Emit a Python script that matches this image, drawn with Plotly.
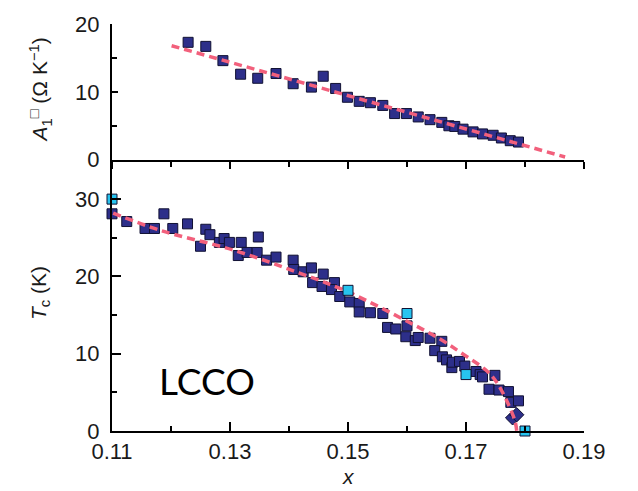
import plotly.graph_objects as go

# ---- data ----
a_x = [0.1229, 0.1259, 0.1288, 0.1318, 0.1347, 0.1378, 0.1407, 0.1438, 0.1458, 0.1479,
       0.1499, 0.1519, 0.1538, 0.1559, 0.1579, 0.1599, 0.1619, 0.1639, 0.1659, 0.1671,
       0.1681, 0.1695, 0.1712, 0.1728, 0.1746, 0.1760, 0.1775, 0.1789]
a_y = [17.3, 16.7, 14.6, 12.6, 12.0, 12.7, 11.2, 10.7, 12.3, 10.5,
       9.2, 8.6, 8.4, 8.0, 6.8, 6.8, 6.3, 5.9, 5.5, 5.0,
       4.9, 4.5, 4.1, 3.8, 3.6, 3.2, 2.8, 2.6]
a_fit_x = [0.1201, 0.1868]
a_fit_y = [16.8, 0.4]

tc_x = [0.11, 0.1125, 0.1156, 0.1172, 0.1188, 0.1203, 0.1228, 0.1250, 0.1259, 0.1266,
        0.1282, 0.1290, 0.1299, 0.1314, 0.1319, 0.1329, 0.1346, 0.1348, 0.1362, 0.1378,
        0.1407, 0.1408, 0.1424, 0.1438, 0.1440, 0.1458, 0.1456, 0.1477, 0.1472, 0.1486,
        0.1503, 0.1519, 0.1519, 0.1538, 0.1559, 0.1567, 0.1581, 0.1600, 0.1598, 0.1614,
        0.1619, 0.1639, 0.1659, 0.1647, 0.1660, 0.1667, 0.1676, 0.1677, 0.1689, 0.1698,
        0.1717, 0.1724, 0.1728, 0.1749, 0.1739, 0.1756, 0.1772, 0.1776, 0.1789]
tc_y = [28.1, 27.1, 26.2, 26.2, 28.1, 26.2, 26.8, 23.9, 26.1, 25.4,
        24.4, 24.9, 24.4, 22.7, 24.4, 23.1, 23.1, 25.1, 22.1, 22.5,
        22.1, 20.9, 20.6, 21.1, 19.2, 20.3, 18.7, 19.2, 18.3, 17.4,
        16.7, 16.5, 15.4, 15.3, 15.2, 13.4, 13.2, 13.6, 12.2, 11.7,
        12.1, 12.0, 11.6, 10.4, 9.6, 9.2, 8.2, 8.9, 9.0, 8.4,
        7.7, 7.3, 7.0, 7.2, 5.4, 5.3, 5.1, 3.7, 3.9]
tc_cyan_x = [0.11, 0.15, 0.16, 0.17, 0.18]
tc_cyan_y = [30.0, 18.2, 15.2, 7.3, 0.0]
tc_dia_x = [0.1779, 0.1786]
tc_dia_y = [1.7, 2.1]
tc_fit_x = [0.1102, 0.118, 0.1306, 0.1419, 0.15, 0.1605, 0.1656, 0.169, 0.1735,
            0.1752, 0.1769, 0.1783, 0.1786]
tc_fit_y = [28.2, 26.0, 23.4, 20.4, 18.0, 14.0, 11.9, 10.2, 7.8, 6.3, 3.9, 1.3, 0.0]

x_tickvals = [0.11, 0.13, 0.15, 0.17, 0.19]
x_ticktext = ["0.11", "0.13", "0.15", "0.17", "0.19"]

NAVY = "#2d2f8a"
CYAN = "#27c4ef"
RED = "#f2607c"
FONT = "Liberation Sans, Arial, sans-serif"
TXT = "#1a1a1a"

sq = dict(symbol="square", size=10, line=dict(color="#111133", width=1))

fig = go.Figure()

# top panel
fig.add_trace(go.Scatter(x=a_x, y=a_y, mode="markers", xaxis="x", yaxis="y",
                         marker=dict(color=NAVY, **sq), cliponaxis=False))
fig.add_trace(go.Scatter(x=a_fit_x, y=a_fit_y, mode="lines", xaxis="x", yaxis="y",
                         line=dict(color=RED, width=3.5, dash="8px,5px")))

# bottom panel
fig.add_trace(go.Scatter(x=tc_x, y=tc_y, mode="markers", xaxis="x2", yaxis="y2",
                         marker=dict(color=NAVY, **sq), cliponaxis=False))
fig.add_trace(go.Scatter(x=tc_dia_x, y=tc_dia_y, mode="markers", xaxis="x2", yaxis="y2",
                         marker=dict(color=NAVY, symbol="diamond", size=11,
                                     line=dict(color="#111133", width=1)),
                         cliponaxis=False))
fig.add_trace(go.Scatter(x=tc_fit_x, y=tc_fit_y, mode="lines", xaxis="x2", yaxis="y2",
                         line=dict(color=RED, width=3.5, dash="8px,5px", shape="spline"),
                         cliponaxis=False))
fig.add_trace(go.Scatter(x=tc_cyan_x, y=tc_cyan_y, mode="markers", xaxis="x2", yaxis="y2",
                         marker=dict(color=CYAN, **sq), cliponaxis=False))

axis_common = dict(showgrid=False, zeroline=False, showline=True, linecolor="black",
                   linewidth=2, tickcolor="black", tickwidth=2,
                   tickfont=dict(family=FONT, size=22, color=TXT))

TOP_DOM = [0.6666, 1.0]
BOT_DOM = [0.0, 0.6666]

fig.update_layout(
    width=638, height=491,
    margin=dict(l=112, r=54, t=21, b=60),
    paper_bgcolor="white", plot_bgcolor="white",
    showlegend=False,
    xaxis=dict(**axis_common, domain=[0, 1], range=[0.11, 0.19], anchor="y",
               tickvals=x_tickvals, showticklabels=False, ticks="outside", ticklen=7,
               minor=dict(dtick=0.01, tick0=0.11, ticks="outside", ticklen=5,
                          tickcolor="black", tickwidth=2)),
    xaxis3=dict(showgrid=False, zeroline=False, showline=False, overlaying="x",
                anchor="y", range=[0.11, 0.19], tickvals=x_tickvals,
                showticklabels=False, ticks="inside", ticklen=7, tickcolor="black",
                tickwidth=2,
                minor=dict(dtick=0.01, tick0=0.11, ticks="inside", ticklen=5,
                           tickcolor="black", tickwidth=2)),
    yaxis=dict(**axis_common, domain=TOP_DOM, range=[0, 20], anchor="x",
               tickvals=[0, 10, 20], ticks="inside", ticklen=6, ticklabelstandoff=6,
               minor=dict(dtick=5, ticks="inside", ticklen=5, tickcolor="black",
                          tickwidth=2)),
    xaxis2=dict(**axis_common, domain=[0, 1], range=[0.11, 0.19], anchor="y2",
                tickvals=x_tickvals, ticktext=x_ticktext, ticks="inside", ticklen=9,
                ticklabelstandoff=0,
                minor=dict(dtick=0.01, tick0=0.11, ticks="inside", ticklen=5,
                           tickcolor="black", tickwidth=2)),
    yaxis2=dict(**axis_common, domain=BOT_DOM, range=[0, 35.1], anchor="x2",
                tickvals=[0, 10, 20, 30], ticks="inside", ticklen=9, ticklabelstandoff=6,
                minor=dict(dtick=5, ticks="inside", ticklen=5, tickcolor="black",
                           tickwidth=2)),
    annotations=[
        dict(text="<i>A</i><sub>1</sub><sup>□</sup> (Ω K<sup>−1</sup>)", xref="paper",
             yref="paper", x=-0.1525, y=0.8366, textangle=-90, showarrow=False,
             font=dict(family=FONT, size=21, color=TXT), xanchor="center",
             yanchor="middle"),
        dict(text="<i>T</i><sub>c</sub> (K)", xref="paper", yref="paper",
             x=-0.1525, y=0.339, textangle=-90, showarrow=False,
             font=dict(family=FONT, size=21, color=TXT), xanchor="center",
             yanchor="middle"),
        dict(text="<i>x</i>", xref="paper", yref="paper", x=0.5, y=-0.112,
             showarrow=False, font=dict(family=FONT, size=21, color=TXT),
             xanchor="center", yanchor="middle"),
        dict(text="LCCO", xref="paper", yref="paper", x=0.201, y=0.124,
             showarrow=False, font=dict(family="Lato, Open Sans, sans-serif", size=37,
                                        color="black"),
             xanchor="center", yanchor="middle"),
    ],
)

fig.write_html("out.html")
